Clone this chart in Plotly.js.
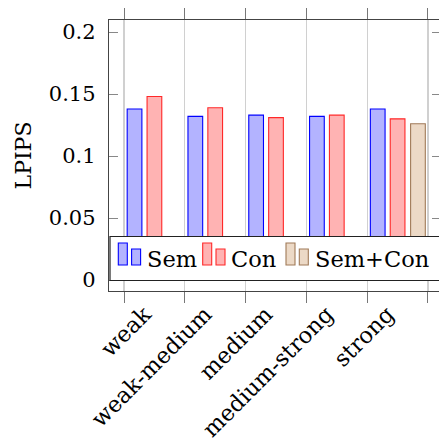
<!DOCTYPE html>
<html>
<head>
<meta charset="utf-8">
<script src="https://cdn.plot.ly/plotly-3.0.1.min.js"></script>
<style>
  html, body { margin: 0; padding: 0; overflow: hidden; background: #fff; }
  #chart { width: 442px; height: 444px; }
</style>
</head>
<body>
<div id="chart"></div>
<script>
// ---- data ----
const categories = ['weak', 'weak-medium', 'medium', 'medium-strong', 'strong'];
const semValues = [0.138, 0.132, 0.133, 0.132, 0.138];
const conValues = [0.148, 0.139, 0.131, 0.133, 0.130];
const semConCategories = ['strong'];
const semConValues = [0.126];
const seriesNames = ['Sem', 'Con', 'Sem+Con'];
const yTitle = 'LPIPS';

// ---- styles ----
const FONT = 'DejaVu Serif';
const fills = ['rgb(179,179,255)', 'rgb(255,179,179)', 'rgb(236,217,198)'];
const edges = ['rgb(0,0,255)', 'rgb(255,40,40)', 'rgb(160,122,88)'];
const barWidth = 0.242;
const offsets = [-0.448, -0.121, 0.214];

const W = 442, H = 444, ML = 109, MR = 1, MT = 20, MB = 153;
const PW = W - ML - MR, PH = H - MT - MB;
const px = x => (x - ML) / PW;
const py = y => (H - MB - y) / PH;

const seriesX = [categories, categories, semConCategories];
const seriesY = [semValues, conValues, semConValues];

const traces = seriesNames.map((name, i) => ({
  type: 'bar',
  name: name,
  x: seriesX[i],
  y: seriesY[i],
  width: barWidth,
  offset: offsets[i],
  marker: { color: fills[i], line: { color: edges[i], width: 1.1 } },
  showlegend: false,
  hoverinfo: 'skip'
}));

// ---- hand-built pgfplots-style legend ----
const shapes = [];
const annotations = [];
shapes.push({
  type: 'rect', xref: 'paper', yref: 'paper', layer: 'above',
  x0: px(110), x1: 1.0, y0: py(280.5), y1: py(236.5),
  fillcolor: '#ffffff', line: { color: '#222', width: 1.2 }
});
const entryStarts = [118.3, 202.7, 286.0];
seriesNames.forEach((name, i) => {
  const s = entryStarts[i];
  shapes.push({
    type: 'rect', xref: 'paper', yref: 'paper', layer: 'above',
    x0: px(s), x1: px(s + 9), y0: py(265), y1: py(243),
    fillcolor: fills[i], line: { color: edges[i], width: 1.1 }
  });
  shapes.push({
    type: 'rect', xref: 'paper', yref: 'paper', layer: 'above',
    x0: px(s + 13.3), x1: px(s + 22.3), y0: py(265), y1: py(249),
    fillcolor: fills[i], line: { color: edges[i], width: 1.1 }
  });
  annotations.push({
    xref: 'paper', yref: 'paper', x: px(s + 26.5), y: py(259),
    xanchor: 'left', yanchor: 'middle', showarrow: false,
    text: name, font: { family: FONT, size: 22.5, color: '#000' }
  });
});

const layout = {
  width: W, height: H,
  margin: { l: ML, r: MR, t: MT, b: MB, pad: 0 },
  paper_bgcolor: '#fff', plot_bgcolor: '#fff',
  barmode: 'overlay',
  font: { family: FONT, size: 21, color: '#000' },
  xaxis: {
    type: 'category',
    categoryorder: 'array', categoryarray: categories,
    range: [-0.747, 4.714],
    tickson: 'boundaries',
    ticks: 'outside', ticklen: 11, tickwidth: 1, tickcolor: '#777',
    showgrid: true, gridcolor: '#d0d0d0', gridwidth: 1.2,
    showline: true, linecolor: '#444', linewidth: 1.2, mirror: 'ticks',
    tickangle: -45,
    ticklabelshift: -10,
    ticklabelstandoff: 0,
    tickfont: { family: FONT, size: 22.5, color: '#000' },
    zeroline: false, fixedrange: true
  },
  yaxis: {
    range: [-0.0088, 0.2097],
    tickmode: 'linear', tick0: 0, dtick: 0.05,
    ticks: 'inside', ticklen: 9, tickwidth: 1, tickcolor: '#888',
    showgrid: false, zeroline: false,
    showline: true, linecolor: '#444', linewidth: 1.2, mirror: 'ticks',
    ticklabelstandoff: 8,
    tickfont: { family: FONT, size: 21, color: '#000' },
    title: { text: yTitle, standoff: 11, font: { family: FONT, size: 22, color: '#000' } },
    fixedrange: true
  },
  shapes: shapes,
  annotations: annotations,
  showlegend: false
};

Plotly.newPlot('chart', traces, layout, { displayModeBar: false, staticPlot: true });
</script>
</body>
</html>
